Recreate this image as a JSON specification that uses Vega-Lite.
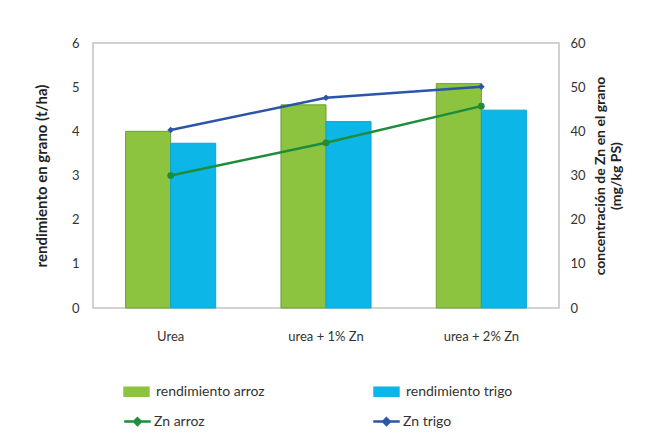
{
  "$schema": "https://vega.github.io/schema/vega-lite/v6.json",
  "width": 466,
  "height": 265,
  "autosize": "none",
  "padding": {"left": 93, "top": 43, "right": 106, "bottom": 139},
  "background": "#ffffff",
  "config": {
    "view": {"stroke": "#c4c4c4", "strokeWidth": 1.5},
    "font": "Lato",
    "axis": {"labelFont": "Lato", "titleFont": "Lato", "labelColor": "#333333", "titleColor": "#222222", "grid": false, "ticks": false, "domain": false}
  },
  "datasets": {
    "barras": [
      {"tratamiento": "Urea", "serie": "rendimiento arroz", "rendimiento": 4.0},
      {"tratamiento": "Urea", "serie": "rendimiento trigo", "rendimiento": 3.73},
      {"tratamiento": "urea + 1% Zn", "serie": "rendimiento arroz", "rendimiento": 4.6},
      {"tratamiento": "urea + 1% Zn", "serie": "rendimiento trigo", "rendimiento": 4.22},
      {"tratamiento": "urea + 2% Zn", "serie": "rendimiento arroz", "rendimiento": 5.08},
      {"tratamiento": "urea + 2% Zn", "serie": "rendimiento trigo", "rendimiento": 4.48}
    ],
    "lineas": [
      {"tratamiento": "Urea", "serie": "Zn arroz", "zn": 30.0},
      {"tratamiento": "urea + 1% Zn", "serie": "Zn arroz", "zn": 37.4},
      {"tratamiento": "urea + 2% Zn", "serie": "Zn arroz", "zn": 45.7},
      {"tratamiento": "Urea", "serie": "Zn trigo", "zn": 40.3},
      {"tratamiento": "urea + 1% Zn", "serie": "Zn trigo", "zn": 47.6},
      {"tratamiento": "urea + 2% Zn", "serie": "Zn trigo", "zn": 50.1}
    ]
  },
  "layer": [
    {
      "data": {"name": "barras"},
      "mark": {"type": "bar", "strokeWidth": 1},
      "encoding": {
        "x": {
          "field": "tratamiento", "type": "nominal",
          "sort": ["Urea", "urea + 1% Zn", "urea + 2% Zn"],
          "scale": {"paddingInner": 0.42, "paddingOuter": 0.21},
          "axis": {"title": null, "labelAngle": 0, "labelPadding": 22, "labelFontSize": 13}
        },
        "xOffset": {"field": "serie", "type": "nominal", "scale": {"paddingInner": 0, "paddingOuter": 0}},
        "y": {
          "field": "rendimiento", "type": "quantitative",
          "scale": {"domain": [0, 6]},
          "axis": {"title": "rendimiento en grano (t/ha)", "values": [0, 1, 2, 3, 4, 5, 6], "labelPadding": 14, "labelFontSize": 13, "titleFontSize": 15, "titleFontWeight": "bold", "titlePadding": 22}
        },
        "color": {
          "field": "serie", "type": "nominal",
          "scale": {"domain": ["rendimiento arroz", "rendimiento trigo"], "range": ["#8cc43f", "#0cb6e6"]},
          "legend": {
            "title": null, "orient": "none", "legendX": 30, "legendY": 335, "direction": "horizontal",
            "symbolType": "M-1,-0.4L1,-0.4L1,0.4L-1,0.4Z", "symbolSize": 700, "symbolStrokeWidth": 0,
            "labelFontSize": 14, "labelFont": "Lato", "labelColor": "#333333", "columnPadding": 108, "labelOffset": 6
          }
        },
        "stroke": {
          "field": "serie", "type": "nominal",
          "scale": {"domain": ["rendimiento arroz", "rendimiento trigo"], "range": ["#6e9e32", "#0aa6d6"]},
          "legend": null
        }
      }
    },
    {
      "data": {"name": "lineas"},
      "layer": [
        {
          "mark": {"type": "line", "strokeWidth": 2.5},
          "encoding": {
            "x": {"field": "tratamiento", "type": "nominal", "sort": ["Urea", "urea + 1% Zn", "urea + 2% Zn"]},
            "y": {
              "field": "zn", "type": "quantitative",
              "scale": {"domain": [0, 60]},
              "axis": {"orient": "right", "title": ["concentración de Zn en el grano", "(mg/kg PS)"], "titleAngle": 270, "titleBaseline": "bottom", "values": [0, 10, 20, 30, 40, 50, 60], "labelPadding": 11, "labelFontSize": 13, "titleFontSize": 14, "titleFontWeight": "bold", "titlePadding": 6}
            },
            "stroke": {
              "field": "serie", "type": "nominal",
              "scale": {"domain": ["Zn arroz", "Zn trigo"], "range": ["#1e8c3c", "#2a55a8"]},
              "legend": {
                "title": null, "orient": "none", "legendX": 30, "legendY": 364, "direction": "horizontal",
                "symbolType": "M-1,0L1,0M0,-0.25L0.25,0L0,0.25L-0.25,0Z", "symbolSize": 700, "symbolStrokeWidth": 2.5,
                "labelFontSize": 14, "labelFont": "Lato", "labelColor": "#333333", "columnPadding": 163, "labelOffset": 2
              }
            }
          }
        },
        {
          "mark": {"type": "point", "filled": true, "size": 45, "opacity": 1},
          "encoding": {
            "x": {"field": "tratamiento", "type": "nominal", "sort": ["Urea", "urea + 1% Zn", "urea + 2% Zn"]},
            "y": {"field": "zn", "type": "quantitative", "scale": {"domain": [0, 60]}},
            "fill": {
              "field": "serie", "type": "nominal",
              "scale": {"domain": ["Zn arroz", "Zn trigo"], "range": ["#1e8c3c", "#2a55a8"]},
              "legend": null
            },
            "shape": {
              "field": "serie", "type": "nominal",
              "scale": {"domain": ["Zn arroz", "Zn trigo"], "range": ["circle", "diamond"]},
              "legend": null
            }
          }
        }
      ]
    }
  ],
  "resolve": {"scale": {"y": "independent", "stroke": "independent"}}
}
